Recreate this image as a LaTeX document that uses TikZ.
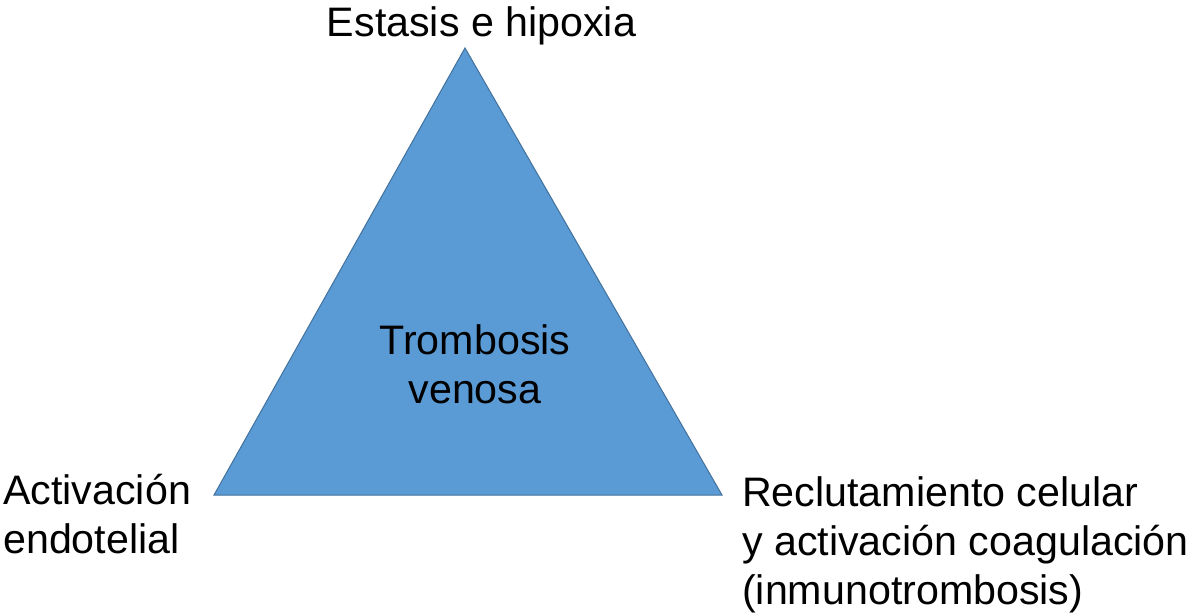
\documentclass[tikz,border=0pt]{standalone}
\usepackage{fontspec}
\setmainfont{Liberation Sans}
\definecolor{trifill}{HTML}{5B9BD5}
\definecolor{triedge}{HTML}{41719C}
\begin{document}
\begin{tikzpicture}[x=1pt,y=-1pt,
  lbl/.style={inner sep=0pt,font=\fontsize{41.2}{49}\selectfont,align=left},
  tri/.style={fill=trifill,draw=triedge,line width=1pt,line join=miter}]
\useasboundingbox (0,0) rectangle (1192,614);
\coordinate (top) at (465,48);
\coordinate (bl) at (214,495);
\coordinate (br) at (722,495);
\draw[tri] (top) -- (bl) -- (br) -- cycle;
\node[lbl,anchor=base] (t) at (481.5,36) {Estasis e hipoxia};
\node[lbl,anchor=base,align=center] (c) at (475,403) {Trombosis\\venosa};
\node[lbl,anchor=base west] (l) at (3,553) {Activación\\endotelial};
\node[lbl,anchor=base west] (r) at (742,604) {Reclutamiento celular\\y activación coagulación\\(inmunotrombosis)};
\end{tikzpicture}
\end{document}
